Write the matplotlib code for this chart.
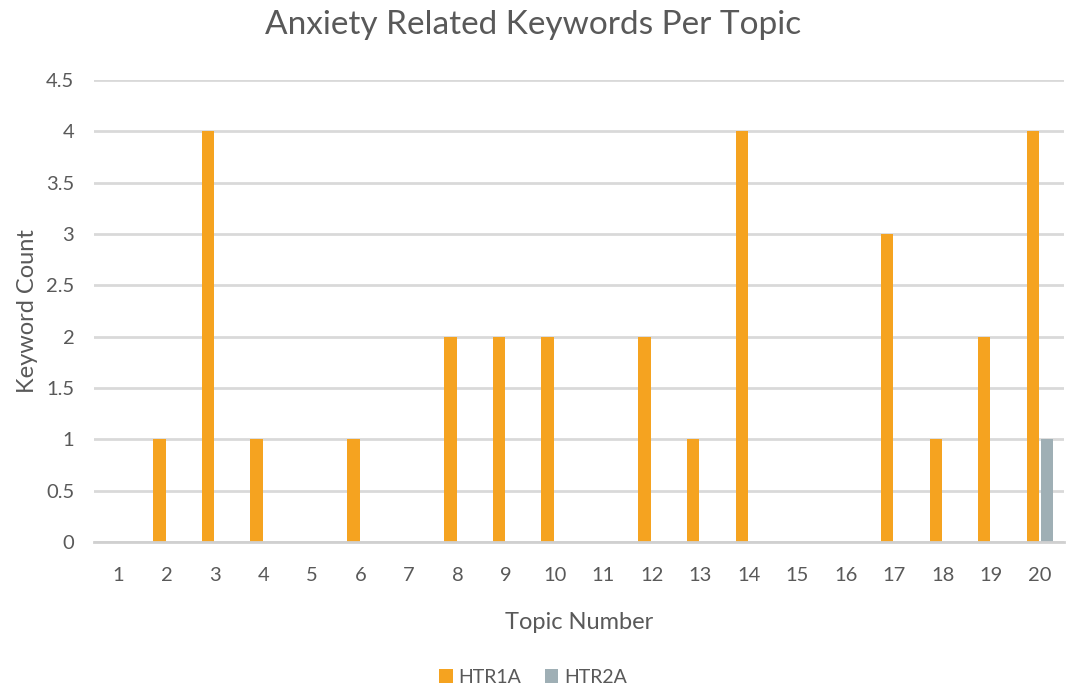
import numpy as np
import matplotlib.pyplot as plt

plt.rcParams['font.family'] = ['Lato', 'DejaVu Sans']

# data
topics = [str(i) for i in range(1, 21)]
htr1a = [0, 1, 4, 1, 0, 1, 0, 2, 2, 2, 0, 2, 1, 4, 0, 0, 3, 1, 2, 4]
htr2a = [0, 0, 0, 0, 0, 0, 0, 0, 0, 0, 0, 0, 0, 0, 0, 0, 0, 0, 0, 1]
yticks = [0, 0.5, 1, 1.5, 2, 2.5, 3, 3.5, 4, 4.5]
ytick_labels = ['0', '0.5', '1', '1.5', '2', '2.5', '3', '3.5', '4', '4.5']

text_col = '#595959'
orange = '#F5A320'
grey = '#9FAFB5'

fig = plt.figure(figsize=(10.66, 6.88), dpi=100)
ax = fig.add_axes([0.088, 0.212, 0.910, 0.672])

x = np.arange(len(topics))
w = 0.25
ax.bar(x - w / 2 - 0.02, htr1a, w, color=orange, label='HTR1A', zorder=3)
ax.bar(x + w / 2 + 0.02, htr2a, w, color=grey, label='HTR2A', zorder=3)

ax.set_xlim(-0.5, len(topics) - 0.5)
ax.set_ylim(0, 4.5)
ax.set_yticks(yticks)
ax.set_yticklabels(ytick_labels)
ax.set_xticks(x)
ax.set_xticklabels(topics)
ax.yaxis.grid(True, color='#D9D9D9', linewidth=2, zorder=0)
ax.tick_params(axis='both', length=0, colors=text_col, labelsize=14.5)
ax.tick_params(axis='x', pad=18)
ax.tick_params(axis='y', pad=14)
for s in ['top', 'right', 'left']:
    ax.spines[s].set_visible(False)
ax.spines['bottom'].set_color('#D0D0D0')
ax.spines['bottom'].set_linewidth(2)
ax.spines['bottom'].set_zorder(4)

ax.set_xlabel('Topic Number', fontsize=17, color=text_col, labelpad=20)
ax.set_ylabel('Keyword Count', fontsize=17, color=text_col, labelpad=6)
fig.suptitle('Anxiety Related Keywords Per Topic', fontsize=24, color=text_col, y=0.985)

fig.legend(loc='lower center', bbox_to_anchor=(0.5, -0.022), ncol=2, frameon=False,
           fontsize=14, labelcolor=text_col, handlelength=0.7, handleheight=0.7,
           handletextpad=0.3, columnspacing=1.2)

fig.savefig('out.png', dpi=100)
